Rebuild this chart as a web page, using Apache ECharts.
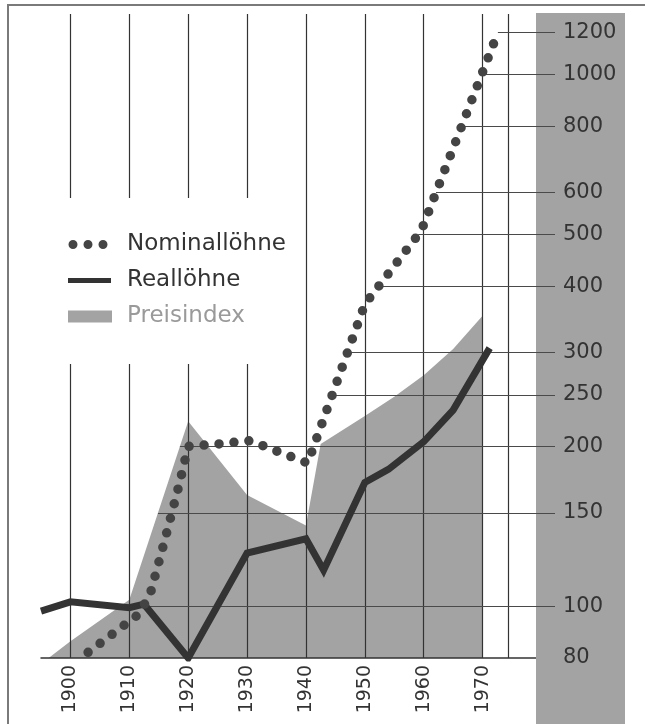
<!DOCTYPE html>
<html>
<head>
<meta charset="utf-8">
<script src="https://cdn.jsdelivr.net/npm/echarts@6/dist/echarts.min.js"></script>
<style>
  html, body { margin: 0; padding: 0; background: #fff; }
  #chart { width: 645px; height: 724px; }
</style>
</head>
<body>
<div id="chart"></div>
<script>
// Lohn- und Preisentwicklung 1895–1972 (logarithmische Skala)
const nominalWages = [
  [1903, 82], [1911.5, 96.5], [1913.5, 105], [1916, 133], [1918.5, 170], [1920, 200],
  [1925, 202], [1930.5, 205], [1935, 196], [1940.3, 186], [1950, 370], [1959.6, 509],
  [1972.6, 1200]
];
const realWages = [
  [1895, 98], [1900, 102], [1910, 99.5], [1912.5, 101], [1920, 80], [1930, 126],
  [1940, 134], [1943, 117], [1950, 171], [1954, 181], [1960, 204], [1965, 234],
  [1971.2, 306]
];
const priceIndex = [
  [1895, 78], [1900, 86], [1910, 103], [1920, 223], [1930, 162], [1940, 142],
  [1942.5, 202], [1950, 228], [1955, 248], [1960, 272], [1965, 305], [1970, 352]
];
const yearLabels = [1900, 1910, 1920, 1930, 1940, 1950, 1960, 1970];
const ruleYears = [1900, 1910, 1920, 1930, 1940, 1950, 1960, 1970, 1974.4];
const valueTicks = [80, 100, 150, 200, 250, 300, 400, 500, 600, 800, 1000, 1200];

const X_MIN = 1895, X_MAX = 1982.3;
const Y_MIN = 80, Y_MAX = 1300;

// first year at which a series reaches a value (log-linear between points)
function crossingYear(series, v) {
  for (let i = 1; i < series.length; i++) {
    const [x0, y0] = series[i - 1], [x1, y1] = series[i];
    if ((y0 - v) * (y1 - v) <= 0 && y0 !== y1) {
      const t = (Math.log(v) - Math.log(y0)) / (Math.log(y1) - Math.log(y0));
      return x0 + t * (x1 - x0);
    }
  }
  return null;
}

const verticalRules = ruleYears.map(x => ({
  xAxis: x,
  lineStyle: { color: '#333', width: 1.2, type: 'solid' }
}));

const leaderLines = valueTicks.filter(v => v > Y_MIN).map(v => {
  const starts = [crossingYear(nominalWages, v), crossingYear(priceIndex, v)].filter(s => s !== null);
  const start = Math.min.apply(null, starts);
  return [
    { coord: [start, v], lineStyle: { color: '#4a4a4a', width: 1, type: 'solid' } },
    { coord: [X_MAX, v] }
  ];
});

const FONT = 'DejaVu Sans';
const dotsIcon = 'path://M0,0M54,14M0.5,7a4.5,4.5 0 1,0 9,0a4.5,4.5 0 1,0 -9,0ZM15.5,7a4.5,4.5 0 1,0 9,0a4.5,4.5 0 1,0 -9,0ZM30.5,7a4.5,4.5 0 1,0 9,0a4.5,4.5 0 1,0 -9,0Z';
const barIcon = 'path://M0,0M54,14M0,4.5h43v5h-43Z';
const boxIcon = 'path://M0,0M54,14M0,1h44v12h-44Z';

const chart = echarts.init(document.getElementById('chart'), null, { renderer: 'canvas' });
chart.setOption({
  animation: false,
  backgroundColor: '#fff',
  grid: { left: 41, right: 90, top: 14, bottom: 66, containLabel: false },
  graphic: [
    { type: 'rect', silent: true, z: 3,
      shape: { x: 536, y: 13, width: 89, height: 711 },
      style: { fill: '#a3a3a3' } },
    { type: 'polyline', silent: true, z: 10,
      shape: { points: [[8, 724], [8, 5], [645, 5]] },
      style: { stroke: '#7a7a7a', lineWidth: 2, fill: null } }
  ],
  legend: {
    orient: 'vertical',
    left: 58, top: 198,
    padding: [33, 14, 34, 10],
    backgroundColor: '#fff',
    itemWidth: 54, itemHeight: 14, itemGap: 9,
    selectedMode: false,
    z: 9,
    itemStyle: { borderWidth: 0 },
    textStyle: { fontFamily: FONT, fontSize: 23, lineHeight: 27, color: '#333' },
    data: [
      { name: 'Nominallöhne', icon: dotsIcon, itemStyle: { color: '#444', borderWidth: 0 } },
      { name: 'Reallöhne', icon: barIcon, itemStyle: { color: '#333', borderWidth: 0 } },
      { name: 'Preisindex', icon: boxIcon, itemStyle: { color: '#a3a3a3', borderWidth: 0 },
        textStyle: { color: '#9a9a9a' } }
    ]
  },
  xAxis: {
    type: 'value', min: X_MIN, max: X_MAX, z: 2,
    axisLine: { show: true, onZero: false, lineStyle: { color: '#333', width: 1.5 } },
    axisTick: { show: false },
    splitLine: { show: false },
    axisLabel: {
      customValues: yearLabels, rotate: 90, margin: 7,
      fontFamily: FONT, fontSize: 19, color: '#333',
      formatter: v => String(Math.round(v))
    }
  },
  yAxis: {
    type: 'log', logBase: 10, min: Y_MIN, max: Y_MAX, position: 'right', z: 8,
    axisLine: { show: false },
    axisTick: { show: false },
    splitLine: { show: false },
    axisLabel: {
      customValues: valueTicks, margin: 8,
      fontFamily: FONT, fontSize: 21, color: '#333',
      formatter: v => String(Math.round(v))
    }
  },
  series: [
    {
      name: 'Preisindex', type: 'line', data: priceIndex, z: 1, silent: true,
      symbol: 'none', itemStyle: { color: '#a3a3a3' },
      lineStyle: { width: 0 },
      areaStyle: { color: '#a3a3a3', opacity: 1 }
    },
    {
      name: 'Raster', type: 'line', data: [], z: 4, silent: true,
      markLine: {
        silent: true, z: 4, animation: false,
        symbol: ['none', 'none'],
        label: { show: false },
        emphasis: { disabled: true },
        data: verticalRules.concat(leaderLines)
      }
    },
    {
      name: 'Reallöhne', type: 'line', data: realWages, z: 6, silent: true,
      symbol: 'none', itemStyle: { color: '#333' },
      lineStyle: { color: '#333', width: 7, join: 'miter' }
    },
    {
      name: 'Nominallöhne', type: 'line', data: nominalWages, z: 7, silent: true,
      symbol: 'none', itemStyle: { color: '#444' },
      lineStyle: { color: '#444', width: 9.5, type: [0, 15], cap: 'round' }
    }
  ]
});
</script>
</body>
</html>
